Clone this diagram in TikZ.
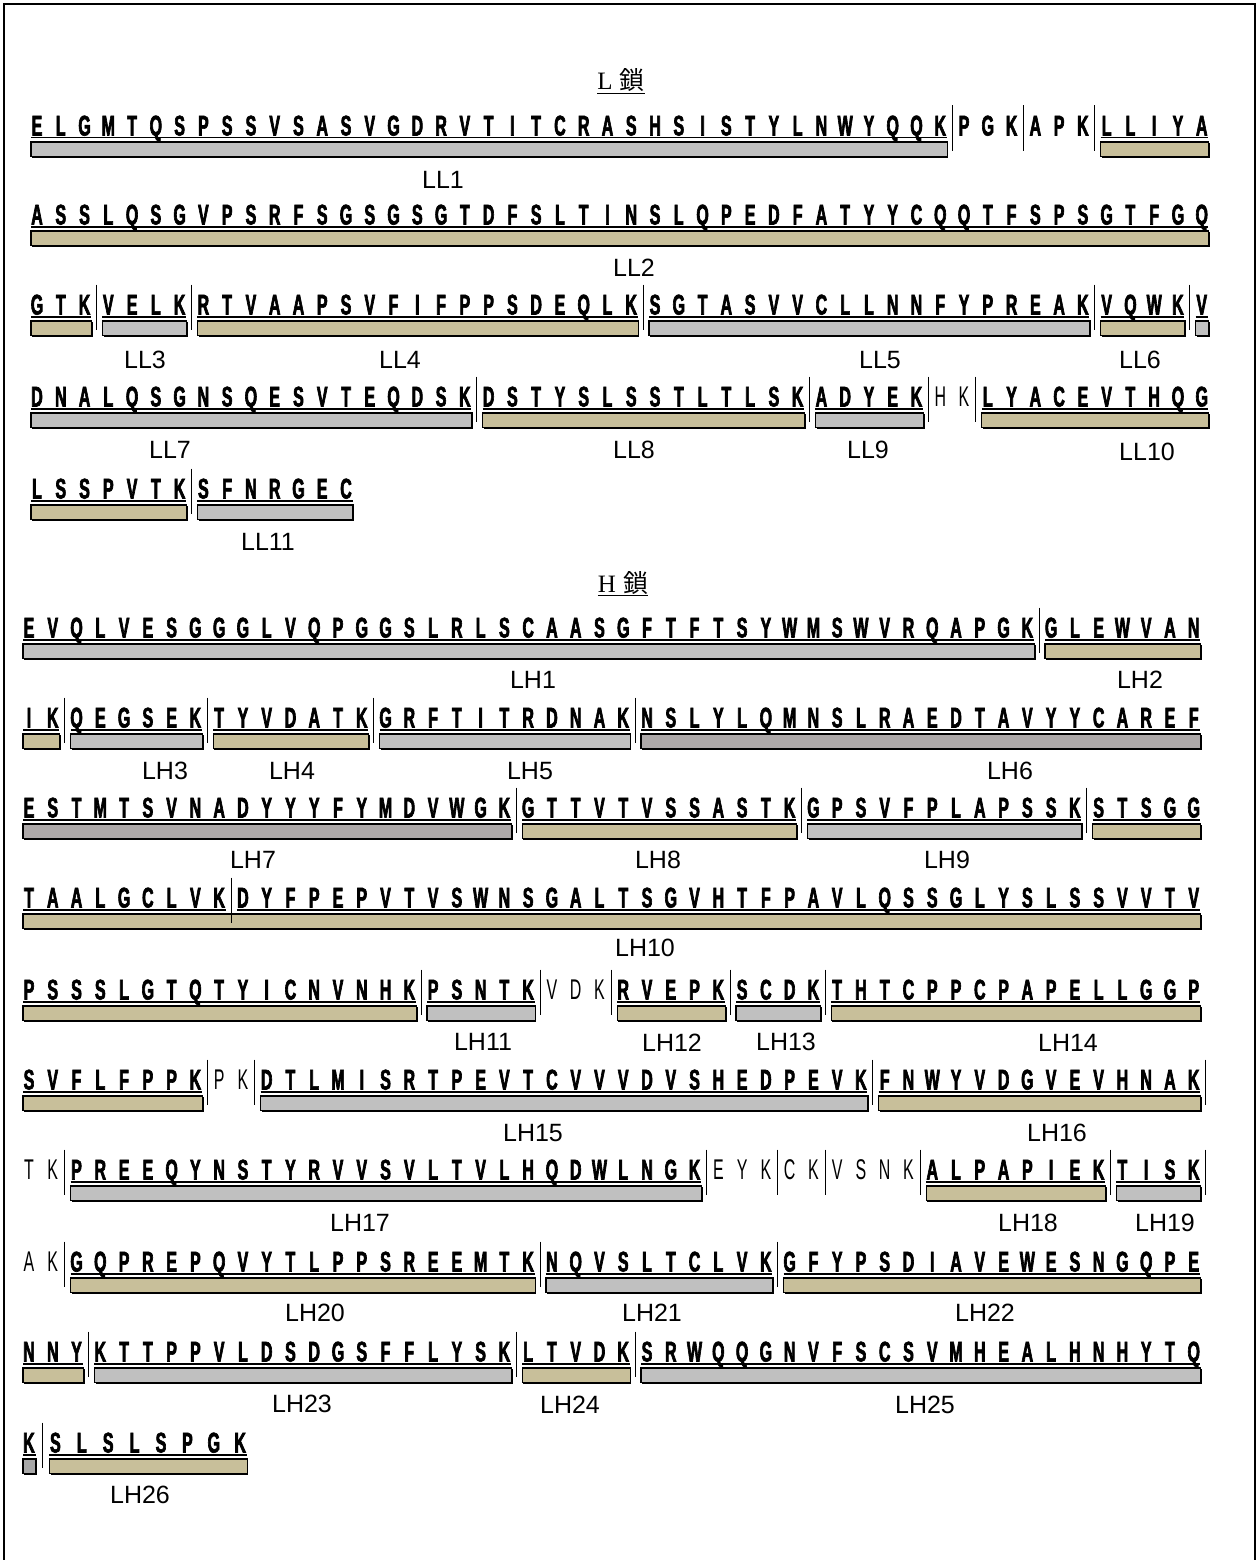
\documentclass[tikz,border=0pt]{standalone}
\usepackage{fontspec}
\setmainfont{Liberation Sans}
\newfontfamily\seqfontb{Liberation Sans}[FakeStretch=0.56, FakeBold=2.2]
\newfontfamily\seqfont{Liberation Sans}[FakeStretch=0.56]
\newfontfamily\labfont{Liberation Sans}
\newfontfamily\ttlfont{Liberation Serif}
\newfontfamily\cjk{Noto Sans CJK JP}
\definecolor{bart}{RGB}{200,191,154}
\definecolor{barg}{RGB}{192,192,192}
\definecolor{bard}{RGB}{173,168,168}
\definecolor{bark}{RGB}{168,168,168}
\tikzset{
  seqbd/.style={font=\seqfontb\bfseries\fontsize{28.5}{30}\selectfont, inner sep=0pt, anchor=base},
  seqlt/.style={font=\seqfont\fontsize{28.5}{30}\selectfont, inner sep=0pt, anchor=base},
  lab/.style={font=\labfont\fontsize{25}{28}\selectfont, inner sep=0pt},
  ttl/.style={font=\fontsize{25}{28}\selectfont, inner sep=0pt, anchor=base},
  sepline/.style={line width=0.9pt},
  uline/.style={line width=1.4pt},
  barbox/.style={draw=black, line width=1.3pt},
  frame/.style={line width=1.5pt},
}
\newcount\slotc
\def\pitch{23.77}
\makeatletter
\newcommand\seqrow[3]{\gdef\rowid{#1}\gdef\rowx{#2}\gdef\rowy{#3}\global\slotc=0\relax}
\def\pl@ce#1{\ifx#1\relax\else
  \pgfmathsetmacro\p@x{\rowx+\the\slotc*\pitch}%
  \edef\p@cmd{\noexpand\node[\cur@st, name=\rowid s\the\slotc] at (\p@x,\rowy) {#1};}\p@cmd
  \global\advance\slotc by 1\relax
  \expandafter\pl@ce\fi}
\newcommand\segul[1]{\edef\st@rt{\the\slotc}\def\cur@st{seqbd}\pl@ce#1\relax
  \pgfmathsetmacro\u@a{\rowx+\st@rt*\pitch-6}%
  \pgfmathsetmacro\u@b{\rowx+(\the\slotc-1)*\pitch+6.5}%
  \draw[uline] (\u@a,\rowy+2.3) -- (\u@b,\rowy+2.3);}
\newcommand\segbd[1]{\def\cur@st{seqbd}\pl@ce#1\relax}
\newcommand\seglt[1]{\def\cur@st{seqlt}\pl@ce#1\relax}
\newcommand\sepr{\pgfmathsetmacro\s@x{\rowx+(\the\slotc-0.5)*\pitch}%
  \draw[sepline] (\s@x,\rowy-30) -- (\s@x,\rowy+15);}
\newcommand\barb[3]{\pgfmathsetmacro\b@a{\rowx+#1*\pitch-6}%
  \pgfmathsetmacro\b@b{\rowx+#2*\pitch+7}%
  \fill[black] (\b@a+1.2,\rowy+7.7) rectangle (\b@b+1.2,\rowy+22.2);
  \draw[barbox, fill=#3] (\b@a,\rowy+6.5) rectangle (\b@b,\rowy+21);}
\makeatother
\begin{document}
\begin{tikzpicture}[x=1pt,y=-1pt]
\useasboundingbox (0,0) rectangle (1260,1560);
\draw[frame] (4,1560) -- (4,4) -- (1255,4) -- (1255,1560);
% titles
\node[ttl] (tL) at (621,90) {\ttlfont L\hspace{7pt}\cjk 鎖};
\draw[line width=1.2pt] ([yshift=-3.5pt]tL.base west) -- ([yshift=-3.5pt]tL.base east);
\node[ttl] (tH) at (623,592) {\ttlfont H\hspace{7pt}\cjk 鎖};
\draw[line width=1.2pt] ([yshift=-3.5pt]tH.base west) -- ([yshift=-3.5pt]tH.base east);
% ---------------- L chain ----------------
\seqrow{La}{37}{135.5}
\barb{0}{38}{barg}\barb{45}{49}{bart}
\segul{ELGMTQSPSSVSASVGDRVTITCRASHSISTYLNWYQQK}\sepr\segbd{PGK}\sepr\segbd{APK}\sepr\segul{LLIYA}
\node[lab] (LL1) at (443,180) {LL1};
\seqrow{Lb}{37}{224.5}
\barb{0}{49}{bart}
\segul{ASSLQSGVPSRFSGSGSGTDFSLTINSLQPEDFATYYCQQTFSPSGTFGQ}
\node[lab] (LL2) at (634,268) {LL2};
\seqrow{Lc}{37}{314.5}
\barb{0}{2}{bart}\barb{3}{6}{barg}\barb{7}{25}{bart}\barb{26}{44}{barg}\barb{45}{48}{bart}\barb{49}{49}{barg}
\segul{GTK}\sepr\segul{VELK}\sepr\segul{RTVAAPSVFIFPPSDEQLK}\sepr\segul{SGTASVVCLLNNFYPREAK}\sepr\segul{VQWK}\sepr\segul{V}
\node[lab] (LL3) at (145,360) {LL3};
\node[lab] (LL4) at (400,360) {LL4};
\node[lab] (LL5) at (880,360) {LL5};
\node[lab] (LL6) at (1140,360) {LL6};
\seqrow{Ld}{37}{406.5}
\barb{0}{18}{barg}\barb{19}{32}{bart}\barb{33}{37}{barg}\barb{40}{49}{bart}
\segul{DNALQSGNSQESVTEQDSK}\sepr\segul{DSTYSLSSTLTLSK}\sepr\segul{ADYEK}\sepr\seglt{HK}\sepr\segul{LYACEVTHQG}
\node[lab] (LL7) at (170,450) {LL7};
\node[lab] (LL8) at (634,450) {LL8};
\node[lab] (LL9) at (868,450) {LL9};
\node[lab] (LL10) at (1147,452) {LL10};
\seqrow{Le}{37}{498.5}
\barb{0}{6}{bart}\barb{7}{13}{barg}
\segul{LSSPVTK}\sepr\segul{SFNRGEC}
\node[lab] (LL11) at (268,542) {LL11};
% ---------------- H chain ----------------
\seqrow{Ha}{29}{637.5}
\barb{0}{42}{barg}\barb{43}{49}{bart}
\segul{EVQLVESGGGLVQPGGSLRLSCAASGFTFTSYWMSWVRQAPGK}\sepr\segul{GLEWVAN}
\node[lab] (LH1) at (533,680) {LH1};
\node[lab] (LH2) at (1140,680) {LH2};
\seqrow{Hb}{29}{727.5}
\barb{0}{1}{bart}\barb{2}{7}{barg}\barb{8}{14}{bart}\barb{15}{25}{barg}\barb{26}{49}{bard}
\segul{IK}\sepr\segul{QEGSEK}\sepr\segul{TYVDATK}\sepr\segul{GRFTITRDNAK}\sepr\segul{NSLYLQMNSLRAEDTAVYYCAREF}
\node[lab] (LH3) at (165,771) {LH3};
\node[lab] (LH4) at (292,771) {LH4};
\node[lab] (LH5) at (530,771) {LH5};
\node[lab] (LH6) at (1010,771) {LH6};
\seqrow{Hc}{29}{817.5}
\barb{0}{20}{bard}\barb{21}{32}{bart}\barb{33}{44}{barg}\barb{45}{49}{bart}
\segul{ESTMTSVNADYYYFYMDVWGK}\sepr\segul{GTTVTVSSASTK}\sepr\segul{GPSVFPLAPSSK}\sepr\segul{STSGG}
\node[lab] (LH7) at (253,860) {LH7};
\node[lab] (LH8) at (658,860) {LH8};
\node[lab] (LH9) at (947,860) {LH9};
\seqrow{Hd}{29}{907.5}
\barb{0}{49}{bart}
\segul{TAALGCLVK}\sepr\segul{DYFPEPVTVSWNSGALTSGVHTFPAVLQSSGLYSLSSVVTV}
\node[lab] (LH10) at (645,948) {LH10};
\seqrow{He}{29}{999.5}
\barb{0}{16}{bart}\barb{17}{21}{barg}\barb{25}{29}{bart}\barb{30}{33}{barg}\barb{34}{49}{bart}
\segul{PSSSLGTQTYICNVNHK}\sepr\segul{PSNTK}\sepr\seglt{VDK}\sepr\segul{RVEPK}\sepr\segul{SCDK}\sepr\segul{THTCPPCPAPELLGGP}
\node[lab] (LH11) at (483,1042) {LH11};
\node[lab] (LH12) at (672,1043) {LH12};
\node[lab] (LH13) at (786,1042) {LH13};
\node[lab] (LH14) at (1068,1043) {LH14};
\seqrow{Hf}{29}{1089.5}
\barb{0}{7}{bart}\barb{10}{35}{barg}\barb{36}{49}{bart}
\segul{SVFLFPPK}\sepr\seglt{PK}\sepr\segul{DTLMISRTPEVTCVVVDVSHEDPEVK}\sepr\segul{FNWYVDGVEVHNAK}\sepr
\node[lab] (LH15) at (533,1133) {LH15};
\node[lab] (LH16) at (1057,1133) {LH16};
\seqrow{Hg}{29}{1179.5}
\barb{2}{28}{barg}\barb{38}{45}{bart}\barb{46}{49}{barg}
\seglt{TK}\sepr\segul{PREEQYNSTYRVVSVLTVLHQDWLNGK}\sepr\seglt{EYK}\sepr\seglt{CK}\sepr\seglt{VSNK}\sepr\segul{ALPAPIEK}\sepr\segul{TISK}\sepr
\node[lab] (LH17) at (360,1223) {LH17};
\node[lab] (LH18) at (1028,1223) {LH18};
\node[lab] (LH19) at (1165,1223) {LH19};
\seqrow{Hh}{29}{1271.5}
\barb{2}{21}{bart}\barb{22}{31}{barg}\barb{32}{49}{bart}
\seglt{AK}\sepr\segul{GQPREPQVYTLPPSREEMTK}\sepr\segul{NQVSLTCLVK}\sepr\segul{GFYPSDIAVEWESNGQPE}
\node[lab] (LH20) at (315,1313) {LH20};
\node[lab] (LH21) at (652,1313) {LH21};
\node[lab] (LH22) at (985,1313) {LH22};
\seqrow{Hi}{29}{1361.5}
\barb{0}{2}{bart}\barb{3}{20}{barg}\barb{21}{25}{bart}\barb{26}{49}{barg}
\segul{NNY}\sepr\segul{KTTPPVLDSDGSFFLYSK}\sepr\segul{LTVDK}\sepr\segul{SRWQQGNVFSCSVMHEALHNHYTQ}
\node[lab] (LH23) at (302,1404) {LH23};
\node[lab] (LH24) at (570,1405) {LH24};
\node[lab] (LH25) at (925,1405) {LH25};
\def\pitch{26.4}
\seqrow{Hj}{29}{1452.5}
\barb{0}{0}{bark}\barb{1}{8}{bart}
\segul{K}\sepr\segul{SLSLSPGK}
\node[lab] (LH26) at (140,1495) {LH26};
\end{tikzpicture}
\end{document}
